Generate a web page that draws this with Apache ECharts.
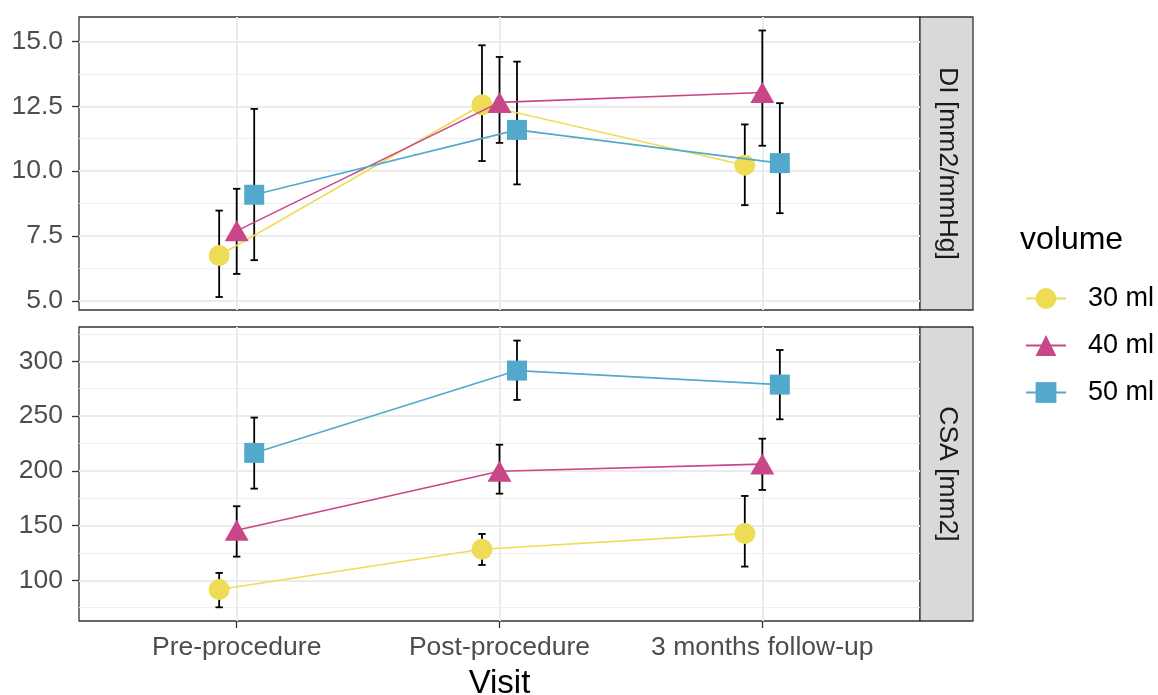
<!DOCTYPE html>
<html>
<head>
<meta charset="utf-8">
<script src="https://cdn.jsdelivr.net/npm/echarts@6/dist/echarts.min.js"></script>
<style>
html,body{margin:0;padding:0;background:#fff;}
#chart{width:1158px;height:695px;}
</style>
</head>
<body>
<div id="chart"></div>
<script>
// ---- data ----
const visits = ['Pre-procedure', 'Post-procedure', '3 months follow-up'];
const volumes = ['30 ml', '40 ml', '50 ml'];

// DI [mm2/mmHg]
const di30 = [6.75, 12.56, 10.23];
const di30Lo = [5.15, 10.39, 8.69];
const di30Hi = [8.48, 14.85, 11.80];
const di40 = [7.70, 12.65, 13.03];
const di40Lo = [6.04, 11.09, 10.98];
const di40Hi = [9.32, 14.40, 15.42];
const di50 = [9.09, 11.59, 10.31];
const di50Lo = [6.57, 9.49, 8.38];
const di50Hi = [12.40, 14.22, 12.62];

// CSA [mm2]
const csa30 = [91.5, 128.3, 142.6];
const csa30Lo = [75.3, 114.0, 112.5];
const csa30Hi = [106.7, 142.3, 177.0];
const csa40 = [145.7, 199.5, 206.1];
const csa40Lo = [121.6, 179.1, 182.5];
const csa40Hi = [167.6, 223.8, 229.3];
const csa50 = [216.3, 291.5, 278.7];
const csa50Lo = [183.7, 264.7, 247.0];
const csa50Hi = [248.6, 318.9, 310.3];

// tick labels
const xTicks = [1, 2, 3];
const diTicks = [5, 7.5, 10, 12.5, 15];
const diMinor = [6.25, 8.75, 11.25, 13.75];
const csaTicks = [100, 150, 200, 250, 300];
const csaMinor = [75, 125, 175, 225, 275, 325];

// ---- styling ----
const colors = ['#EEDC57', '#C94689', '#53A9CC'];
const symbols = ['circle', 'triangle', 'rect'];
const symbolSizes = [21, [24, 21], 20];
const dodge = 0.2 / 3;
const FONT = '"Liberation Sans", Arial, sans-serif';

const chart = echarts.init(document.getElementById('chart'), null, {renderer: 'canvas'});

function errRender(params, api) {
  const x = api.value(0), lo = api.value(1), hi = api.value(2);
  const a = api.coord([x, lo]), b = api.coord([x, hi]);
  const hw = 3.7;
  const st = {stroke: '#000', lineWidth: 1.8};
  return {
    type: 'group',
    children: [
      {type: 'line', shape: {x1: a[0], y1: a[1], x2: b[0], y2: b[1]}, style: st},
      {type: 'line', shape: {x1: a[0] - hw, y1: a[1], x2: a[0] + hw, y2: a[1]}, style: st},
      {type: 'line', shape: {x1: b[0] - hw, y1: b[1], x2: b[0] + hw, y2: b[1]}, style: st}
    ]
  };
}

const panels = [
  {means: [di30, di40, di50], lo: [di30Lo, di40Lo, di50Lo], hi: [di30Hi, di40Hi, di50Hi]},
  {means: [csa30, csa40, csa50], lo: [csa30Lo, csa40Lo, csa50Lo], hi: [csa30Hi, csa40Hi, csa50Hi]}
];

const series = [];
panels.forEach((p, pi) => {
  volumes.forEach((v, gi) => {
    const off = (gi - 1) * dodge;
    series.push({
      type: 'custom',
      name: 'err' + pi + gi,
      xAxisIndex: pi,
      yAxisIndex: pi,
      z: 1,
      renderItem: errRender,
      encode: {x: 0, y: [1, 2]},
      silent: true,
      data: p.means[gi].map((m, i) => [i + 1 + off, p.lo[gi][i], p.hi[gi][i]])
    });
  });
});
panels.forEach((p, pi) => {
  volumes.forEach((v, gi) => {
    const off = (gi - 1) * dodge;
    series.push({
      type: 'line',
      name: v,
      xAxisIndex: pi,
      yAxisIndex: pi,
      z: 3 + gi,
      symbol: symbols[gi],
      symbolSize: symbolSizes[gi],
      showSymbol: true,
      animation: false,
      color: colors[gi],
      lineStyle: {color: colors[gi], width: 1.6},
      itemStyle: {color: colors[gi]},
      data: p.means[gi].map((m, i) => [i + 1 + off, m])
    });
  });
});

const gridLine = {show: true, lineStyle: {color: '#EBEBEB', width: 2}};
const minorLine = {show: true, lineStyle: {color: '#EEEEEE', width: 1.2}};
const tickStyle = {color: '#333333', width: 1.3};
const labelStyle = {color: '#4D4D4D', fontSize: 26.5, fontFamily: FONT};

function xAxis(gi, bottom) {
  return {
    type: 'value', gridIndex: gi, min: 0.4, max: 3.6,
    axisLine: {show: false},
    axisTick: {show: bottom, customValues: xTicks, length: 7, lineStyle: tickStyle},
    axisLabel: {show: bottom, customValues: xTicks, margin: 13, ...labelStyle,
      formatter: v => visits[Math.round(v) - 1]},
    splitLine: gridLine,
    name: bottom ? 'Visit' : '',
    nameLocation: 'middle',
    nameGap: 46,
    nameTextStyle: {color: '#000', fontSize: 33, fontFamily: FONT}
  };
}
function yAxis(gi, min, max, ticks, dec) {
  return {
    type: 'value', gridIndex: gi, min: min, max: max,
    axisLine: {show: false},
    axisTick: {show: true, customValues: ticks, length: 7, lineStyle: tickStyle},
    axisLabel: {show: true, customValues: ticks, margin: 16, ...labelStyle,
      formatter: v => v.toFixed(dec)},
    splitLine: gridLine
  };
}
function yMinor(gi, min, max, ticks) {
  return {
    type: 'value', gridIndex: gi, min: min, max: max, position: 'left',
    axisLine: {show: false},
    axisTick: {show: false, customValues: ticks},
    axisLabel: {show: false, customValues: ticks},
    splitLine: minorLine
  };
}

const option = {
  backgroundColor: '#fff',
  animation: false,
  grid: [
    {left: 79, top: 17, width: 841, height: 293, show: true, borderColor: '#333333', borderWidth: 1.3, backgroundColor: 'transparent', outerBoundsMode: 'none', containLabel: false},
    {left: 79, top: 327, width: 841, height: 294, show: true, borderColor: '#333333', borderWidth: 1.3, backgroundColor: 'transparent', outerBoundsMode: 'none', containLabel: false}
  ],
  xAxis: [xAxis(0, false), xAxis(1, true)],
  yAxis: [
    yAxis(0, 4.65, 15.94, diTicks, 1),
    yAxis(1, 62.8, 331.3, csaTicks, 0),
    yMinor(0, 4.65, 15.94, diMinor),
    yMinor(1, 62.8, 331.3, csaMinor)
  ],
  legend: {
    data: volumes,
    orient: 'vertical',
    left: 1025,
    top: 285,
    padding: 0,
    itemWidth: 40,
    itemHeight: 26,
    itemGap: 20,
    selectedMode: false,
    textStyle: {color: '#000', fontSize: 27, fontFamily: FONT, padding: [0, 0, 0, 17]}
  },
  graphic: [
    {type: 'rect', shape: {x: 920, y: 17, width: 53, height: 293}, style: {fill: '#D9D9D9', stroke: '#333333', lineWidth: 1.3}},
    {type: 'rect', shape: {x: 920, y: 327, width: 53, height: 294}, style: {fill: '#D9D9D9', stroke: '#333333', lineWidth: 1.3}},
    {type: 'text', x: 947, y: 163.5, rotation: -Math.PI / 2,
      style: {text: 'DI [mm2/mmHg]', fill: '#1A1A1A', fontSize: 26.5, fontFamily: FONT, align: 'center', verticalAlign: 'middle'}},
    {type: 'text', x: 947, y: 474, rotation: -Math.PI / 2,
      style: {text: 'CSA [mm2]', fill: '#1A1A1A', fontSize: 26.5, fontFamily: FONT, align: 'center', verticalAlign: 'middle'}},
    {type: 'text', x: 1020, y: 240,
      style: {text: 'volume', fill: '#000', fontSize: 32, fontFamily: FONT, align: 'left', verticalAlign: 'middle'}}
  ],
  series: series
};
chart.setOption(option);
</script>
</body>
</html>
